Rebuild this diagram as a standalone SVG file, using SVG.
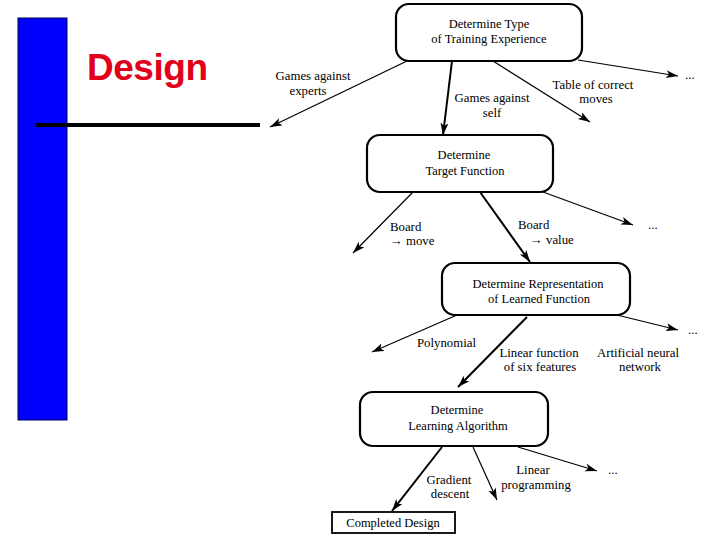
<svg xmlns="http://www.w3.org/2000/svg" width="720" height="540" viewBox="0 0 720 540">
<style>
.node{fill:#fff;stroke:#000;stroke-width:2.2}
.box{fill:#fff;stroke:#000;stroke-width:1.8}
.nt{font-family:"Liberation Serif","Times New Roman",serif;font-size:12.5px;fill:#000;text-anchor:middle}
.lb{font-family:"Liberation Serif","Times New Roman",serif;font-size:12.8px;fill:#000;text-anchor:middle}
.ls{font-family:"Liberation Serif","Times New Roman",serif;font-size:12.8px;fill:#000}
.thin{stroke:#000;stroke-width:1.2;fill:none;marker-end:url(#ah)}
.thick{stroke:#000;stroke-width:2;fill:none;marker-end:url(#ah)}
</style>
<defs>
<marker id="ah" markerUnits="userSpaceOnUse" markerWidth="14" markerHeight="10" refX="12" refY="4" orient="auto">
<path d="M0,0 L12,4 L0,8 L3,4 Z" fill="#000"/>
</marker>
</defs>
<rect width="720" height="540" fill="#fff"/>
<g id="sidebar">
<rect x="18" y="18" width="49" height="402" fill="#0000ff" stroke="#000050" stroke-width="1"/>
<line x1="36" y1="125" x2="260" y2="125" stroke="#000" stroke-width="4"/>
<text x="87" y="80" font-family="'Liberation Sans',Arial,sans-serif" font-size="37" font-weight="bold" fill="#e2001a" textLength="121">Design</text>
</g>
<g id="connectors">
<line class="thin" x1="407" y1="61" x2="270" y2="127"/>
<line class="thick" x1="452" y1="61" x2="443" y2="135"/>
<line class="thin" x1="493" y1="61" x2="590" y2="122"/>
<line class="thin" x1="578" y1="60" x2="678" y2="76"/>
<line class="thin" x1="413" y1="192" x2="353" y2="253"/>
<line class="thick" x1="480" y1="192" x2="530" y2="262"/>
<line class="thin" x1="543" y1="192" x2="633" y2="225"/>
<line class="thin" x1="457" y1="315" x2="372" y2="352"/>
<line class="thick" x1="527" y1="317" x2="458" y2="387"/>
<line class="thin" x1="617" y1="315" x2="678" y2="330"/>
<line class="thick" x1="442" y1="447" x2="392" y2="511"/>
<line class="thin" x1="473" y1="447" x2="497" y2="500"/>
<line class="thin" x1="518" y1="447" x2="597" y2="471"/>
</g>
<g id="labels">
<text class="lb" x="313" y="80">Games against</text>
<text class="lb" x="308" y="95">experts</text>
<text class="lb" x="492" y="102">Games against</text>
<text class="lb" x="492" y="117">self</text>
<text class="lb" x="593" y="89">Table of correct</text>
<text class="lb" x="596" y="103">moves</text>
<text class="ls" x="685" y="79">...</text>
<text class="ls" x="390" y="231">Board</text>
<text class="ls" x="390" y="245">→ move</text>
<text class="ls" x="518" y="229">Board</text>
<text class="ls" x="530" y="244">→ value</text>
<text class="ls" x="648" y="229">...</text>
<text class="ls" x="417" y="347">Polynomial</text>
<text class="lb" x="539" y="357">Linear function</text>
<text class="lb" x="540" y="371">of six features</text>
<text class="lb" x="638" y="357">Artificial neural</text>
<text class="lb" x="640" y="371">network</text>
<text class="ls" x="688" y="334">...</text>
<text class="lb" x="449" y="484">Gradient</text>
<text class="lb" x="450" y="498">descent</text>
<text class="lb" x="533" y="474">Linear</text>
<text class="lb" x="536" y="489">programming</text>
<text class="ls" x="608" y="474">...</text>
</g>
<g id="node-training">
<rect class="node" x="396" y="4" width="186" height="57" rx="13"/>
<text class="nt" x="489" y="28">Determine Type</text>
<text class="nt" x="489" y="43">of Training Experience</text>
</g>
<g id="node-target">
<rect class="node" x="367" y="135" width="186" height="57" rx="13"/>
<text class="nt" x="464" y="159">Determine</text>
<text class="nt" x="465" y="175">Target Function</text>
</g>
<g id="node-representation">
<rect class="node" x="442" y="263" width="188" height="52" rx="13"/>
<text class="nt" x="538" y="288">Determine Representation</text>
<text class="nt" x="539" y="303">of Learned Function</text>
</g>
<g id="node-algorithm">
<rect class="node" x="360" y="392" width="188" height="54" rx="13"/>
<text class="nt" x="457" y="414">Determine</text>
<text class="nt" x="458" y="430">Learning Algorithm</text>
</g>
<g id="node-completed">
<rect class="box" x="332" y="512" width="123" height="21"/>
<text class="nt" x="393" y="527">Completed Design</text>
</g>
</svg>
